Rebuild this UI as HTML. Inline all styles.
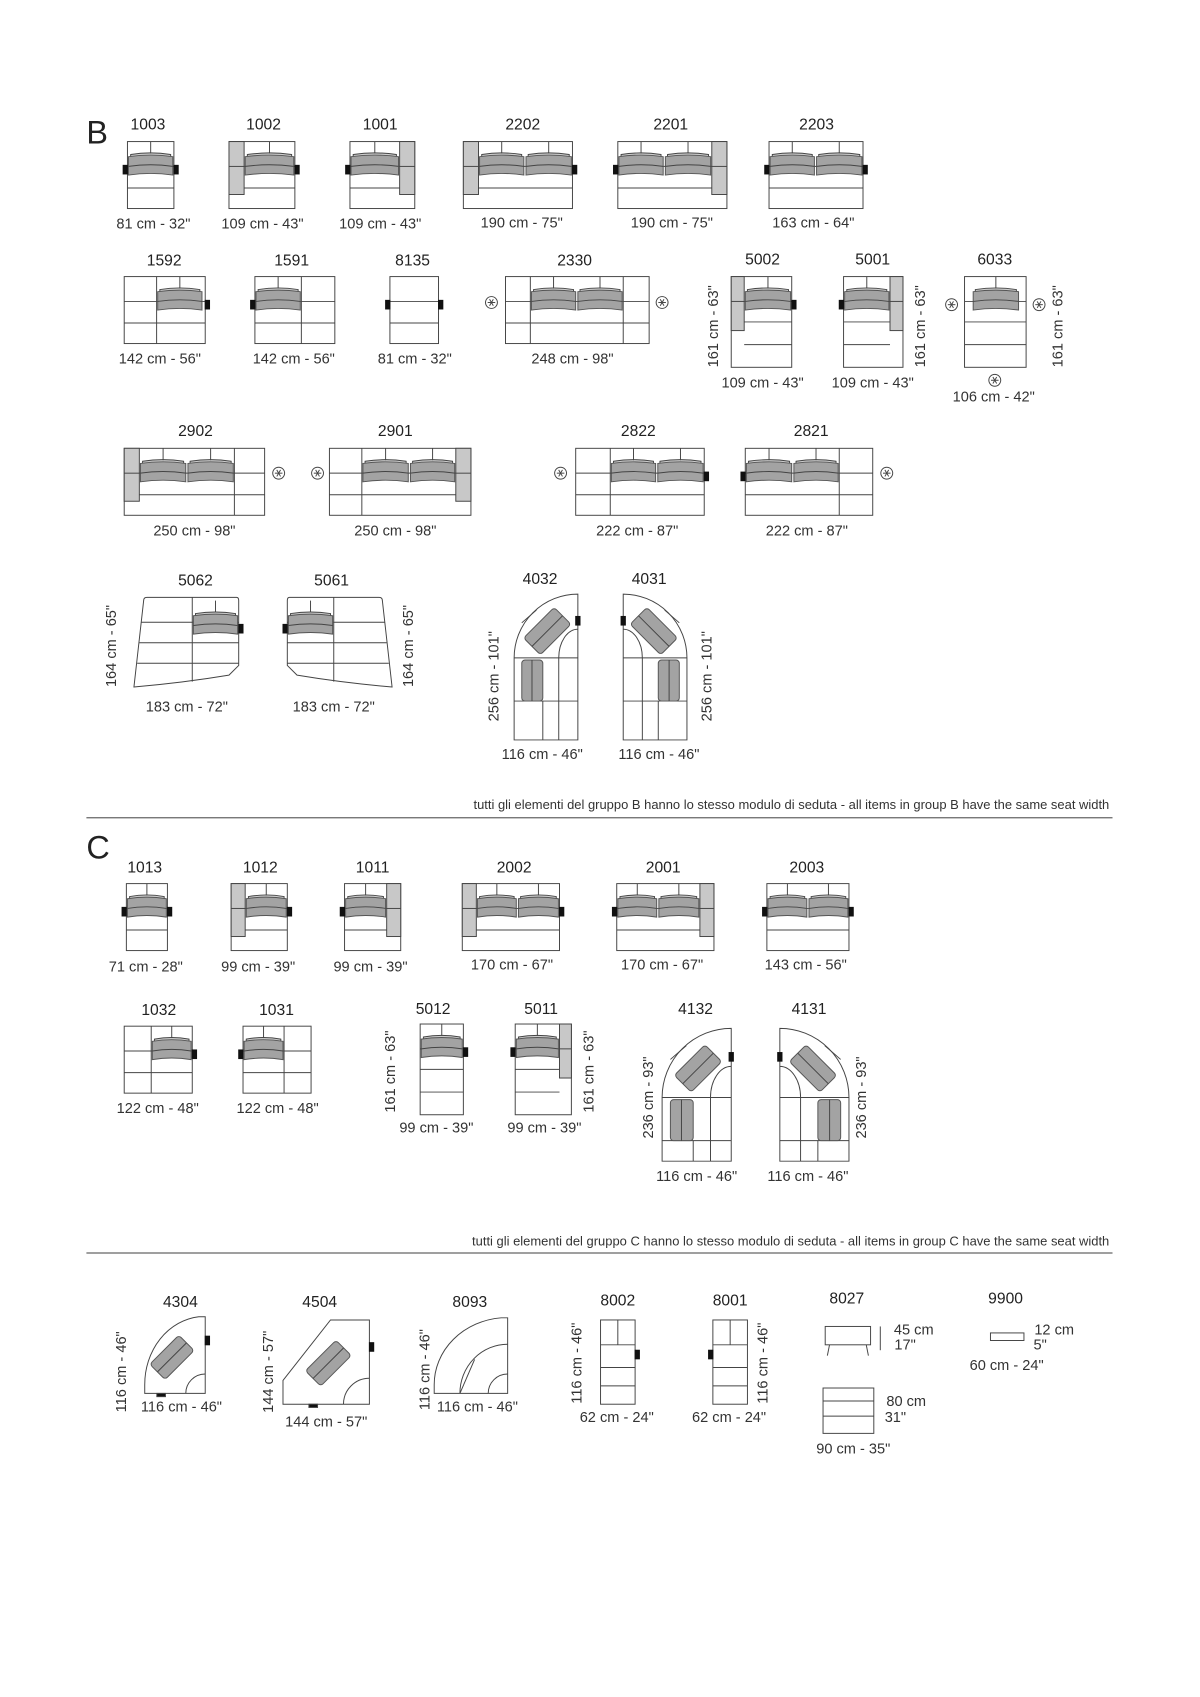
<!DOCTYPE html>
<html><head><meta charset="utf-8"><style>
html,body{margin:0;padding:0;background:#fff}
svg{display:block}
text{font-family:"Liberation Sans",sans-serif;fill:#222}
.l{font-size:14.5px;text-anchor:middle;dominant-baseline:middle}
.d{font-size:13.5px;text-anchor:middle;dominant-baseline:middle;fill:#333}
.c{font-size:12px;text-anchor:end;fill:#333}
</style></head><body>
<svg id="s" width="1200" height="1697" viewBox="0 0 1111 1571" xmlns="http://www.w3.org/2000/svg">
<g id="shapes" fill="none" stroke="#444" stroke-width="0.9"></g>
<text x="80" y="125" style="font-size:30px;dominant-baseline:middle">B</text>
<text x="80" y="787" style="font-size:30px;dominant-baseline:middle">C</text>
<line x1="80" y1="757" x2="1030" y2="757" stroke="#666" stroke-width="1.2"/>
<line x1="80" y1="1160" x2="1030" y2="1160" stroke="#666" stroke-width="1.2"/>
<text class="c" x="1027" y="749">tutti gli elementi  del gruppo B hanno lo stesso modulo di  seduta  -  all items in group B have the same seat width</text>
<text class="c" x="1027" y="1153">tutti gli elementi  del gruppo C hanno lo stesso modulo di  seduta  -  all items in group C have the same seat width</text>

<text class="l" x="137" y="116">1003</text><text class="l" x="244" y="116">1002</text><text class="l" x="352" y="116">1001</text>
<text class="l" x="484" y="116">2202</text><text class="l" x="621" y="116">2201</text><text class="l" x="756" y="116">2203</text>
<text class="d" x="142" y="208">81 cm - 32"</text><text class="d" x="243" y="208">109 cm - 43"</text><text class="d" x="352" y="208">109 cm - 43"</text>
<text class="d" x="483" y="207">190 cm - 75"</text><text class="d" x="622" y="207">190 cm - 75"</text><text class="d" x="753" y="207">163 cm - 64"</text>

<text class="l" x="152" y="242">1592</text><text class="l" x="270" y="242">1591</text><text class="l" x="382" y="242">8135</text>
<text class="l" x="532" y="242">2330</text><text class="l" x="706" y="241">5002</text><text class="l" x="808" y="241">5001</text><text class="l" x="921" y="241">6033</text>
<text class="d" x="148" y="333">142 cm - 56"</text><text class="d" x="272" y="333">142 cm - 56"</text><text class="d" x="384" y="333">81 cm - 32"</text>
<text class="d" x="530" y="333">248 cm - 98"</text><text class="d" x="706" y="355">109 cm - 43"</text><text class="d" x="808" y="355">109 cm - 43"</text><text class="d" x="920" y="368">106 cm - 42"</text>
<text class="d" transform="translate(661,302) rotate(-90)">161 cm - 63"</text>
<text class="d" transform="translate(853,302) rotate(-90)">161 cm - 63"</text>
<text class="d" transform="translate(980,302) rotate(-90)">161 cm - 63"</text>

<text class="l" x="181" y="400">2902</text><text class="l" x="366" y="400">2901</text><text class="l" x="591" y="400">2822</text><text class="l" x="751" y="400">2821</text>
<text class="d" x="180" y="492">250 cm - 98"</text><text class="d" x="366" y="492">250 cm - 98"</text><text class="d" x="590" y="492">222 cm - 87"</text><text class="d" x="747" y="492">222 cm - 87"</text>

<text class="l" x="181" y="538">5062</text><text class="l" x="307" y="538">5061</text><text class="l" x="500" y="537">4032</text><text class="l" x="601" y="537">4031</text>
<text class="d" x="173" y="655">183 cm - 72"</text><text class="d" x="309" y="655">183 cm - 72"</text><text class="d" x="502" y="699">116 cm - 46"</text><text class="d" x="610" y="699">116 cm - 46"</text>
<text class="d" transform="translate(104,598) rotate(-90)">164 cm - 65"</text>
<text class="d" transform="translate(379,598) rotate(-90)">164 cm - 65"</text>
<text class="d" transform="translate(458,626) rotate(-90)">256 cm - 101"</text>
<text class="d" transform="translate(655,626) rotate(-90)">256 cm - 101"</text>

<text class="l" x="134" y="804">1013</text><text class="l" x="241" y="804">1012</text><text class="l" x="345" y="804">1011</text>
<text class="l" x="476" y="804">2002</text><text class="l" x="614" y="804">2001</text><text class="l" x="747" y="804">2003</text>
<text class="d" x="135" y="896">71 cm - 28"</text><text class="d" x="239" y="896">99 cm - 39"</text><text class="d" x="343" y="896">99 cm - 39"</text>
<text class="d" x="474" y="894">170 cm - 67"</text><text class="d" x="613" y="894">170 cm - 67"</text><text class="d" x="746" y="894">143 cm - 56"</text>

<text class="l" x="147" y="936">1032</text><text class="l" x="256" y="936">1031</text><text class="l" x="401" y="935">5012</text><text class="l" x="501" y="935">5011</text>
<text class="l" x="644" y="935">4132</text><text class="l" x="749" y="935">4131</text>
<text class="d" x="146" y="1027">122 cm - 48"</text><text class="d" x="257" y="1027">122 cm - 48"</text><text class="d" x="404" y="1045">99 cm - 39"</text><text class="d" x="504" y="1045">99 cm - 39"</text>
<text class="d" x="645" y="1090">116 cm - 46"</text><text class="d" x="748" y="1090">116 cm - 46"</text>
<text class="d" transform="translate(362,992) rotate(-90)">161 cm - 63"</text>
<text class="d" transform="translate(546,992) rotate(-90)">161 cm - 63"</text>
<text class="d" transform="translate(601,1016) rotate(-90)">236 cm - 93"</text>
<text class="d" transform="translate(798,1016) rotate(-90)">236 cm - 93"</text>

<text class="l" x="167" y="1206">4304</text><text class="l" x="296" y="1206">4504</text><text class="l" x="435" y="1206">8093</text>
<text class="l" x="572" y="1205">8002</text><text class="l" x="676" y="1205">8001</text><text class="l" x="784" y="1203">8027</text><text class="l" x="931" y="1203">9900</text>
<text class="d" x="168" y="1303">116 cm - 46"</text><text class="d" x="302" y="1317">144 cm - 57"</text><text class="d" x="442" y="1303">116 cm - 46"</text>
<text class="d" x="571" y="1313">62 cm - 24"</text><text class="d" x="675" y="1313">62 cm - 24"</text><text class="d" x="790" y="1342">90 cm - 35"</text><text class="d" x="932" y="1265">60 cm - 24"</text>
<text class="d" transform="translate(113,1270) rotate(-90)">116 cm - 46"</text>
<text class="d" transform="translate(249,1270) rotate(-90)">144 cm - 57"</text>
<text class="d" transform="translate(394,1268) rotate(-90)">116 cm - 46"</text>
<text class="d" transform="translate(535,1262) rotate(-90)">116 cm - 46"</text>
<text class="d" transform="translate(707,1262) rotate(-90)">116 cm - 46"</text>
<text class="d" x="846" y="1232">45 cm</text><text class="d" x="838" y="1246">17"</text>
<text class="d" x="839" y="1298">80 cm</text><text class="d" x="829" y="1313">31"</text>
<text class="d" x="976" y="1232">12 cm</text><text class="d" x="963" y="1246">5"</text>
</svg>
<script>
var G=document.getElementById('shapes'),NS='http://www.w3.org/2000/svg';
function el(t,a,p){var e=document.createElementNS(NS,t);for(var k in a)e.setAttribute(k,a[k]);(p||G).appendChild(e);return e;}
function R(x,y,w,h,f,p){return el('rect',{x:x,y:y,width:w,height:h,fill:f||'none'},p);}
function L(a,b,c,d,p){return el('line',{x1:a,y1:b,x2:c,y2:d},p);}
function K(x,y,p){el('rect',{x:x-2,y:y,width:4,height:8,fill:'#111',stroke:'#111'},p);}
function AST(x,y){el('circle',{cx:x,cy:y,r:5.5,fill:'#fff'});for(var i=0;i<3;i++){var a=i*Math.PI/3;L(x-3.5*Math.cos(a),y-3.5*Math.sin(a),x+3.5*Math.cos(a),y+3.5*Math.sin(a));}}
function cush(x,y,w,p){
 el('path',{d:'M'+(x+3)+' '+(y+12)+' Q'+(x+w/2)+' '+(y+9)+' '+(x+w-3)+' '+(y+12)+' L'+(x+w-3)+' '+(y+14)+' L'+(x+3)+' '+(y+14)+'Z',fill:'#ccc'},p);
 el('path',{d:'M'+(x+1)+' '+(y+14)+' Q'+(x+w/2)+' '+(y+11)+' '+(x+w-1)+' '+(y+14)+' L'+(x+w-1)+' '+(y+31)+' Q'+(x+w/2)+' '+(y+28)+' '+(x+1)+' '+(y+31)+'Z',fill:'#a3a3a3',stroke:'#555'},p);
 el('path',{d:'M'+(x+1)+' '+(y+23)+' Q'+(x+w/2)+' '+(y+20)+' '+(x+w-1)+' '+(y+23)},p);
 L(x+w/2,y,x+w/2,y+11,p);
}
function S(x,y,w,h,o){
 R(x,y,w,h,'#fff');
 var aL=o.aL||0,aR=o.aR||0,ah=h>70?50:49;
 L(x+aL,y+(h>70?42:43),x+w-aR,y+(h>70?42:43));
 if(h>70)L(x+aL,y+63,x+w-aR,y+63);
 if(o.mid!==false)L(x+aL,y+23,x+w-aR,y+23);
 (o.v||[]).forEach(function(v){L(v,y,v,y+h);});
 if(aL){R(x,y,aL,ah,'#c8c8c8');L(x,y+23,x+aL,y+23);}
 if(aR){R(x+w-aR,y,aR,ah,'#c8c8c8');L(x+w-aR,y+23,x+w,y+23);}
 (o.s||[]).forEach(function(s){cush(s[0],y,s[1]);});
 (o.k||[]).forEach(function(k){K(k,y+22);});
}
S(118,131,43,62,{s:[[118,43]],k:[116,163]});
S(212,131,61,62,{aL:14,s:[[226,47]],k:[275]});
S(324,131,60,62,{aR:14,s:[[324,46]],k:[322]});
S(429,131,101,62,{aL:14,s:[[443,43],[486,44]],k:[532]});
S(572,131,101,62,{aR:14,s:[[572,43],[615,44]],k:[570]});
S(712,131,87,62,{s:[[712,43],[755,44]],k:[710,801]});
S(115,256,75,62,{v:[145],s:[[145,43]],k:[192]});
S(236,256,74,62,{v:[279],s:[[236,43]],k:[234]});
S(361,256,45,62,{k:[359,408]});
S(468,256,133,62,{v:[491,577],s:[[491,43],[534,43]]});AST(455,280);AST(613,280);
S(677,256,56,84,{aL:12,s:[[689,44]],k:[735]});
S(781,256,55,84,{aR:12,s:[[781,43]],k:[779]});
S(893,256,57,84,{s:[[900,44]]});AST(881,282);AST(962,282);AST(921,352);
S(115,415,130,62,{aL:14,v:[217],s:[[129,44],[173,44]]});AST(258,438);
S(305,415,131,62,{aR:14,v:[335],s:[[335,44],[379,43]]});AST(294,438);
S(533,415,119,62,{v:[565],s:[[565,43],[608,44]],k:[654]});AST(519,438);
S(690,415,118,62,{v:[777],s:[[690,44],[734,43]],k:[688]});AST(821,438);
function trap(p){
 el('path',{d:'M136 553 L219 553 Q221 553 221 556 L221 616 L212 625 Q170 632 124 636 L133 556 Q133 553 136 553Z',fill:'#fff'},p);
 L(178,553,178,631,p);L(131,576,221,576,p);L(129,595,221,595,p);L(127,614,221,614,p);
 cush(178,556,43,p);K(223,578,p);
}
trap();var g=el('g',{transform:'translate(487,0) scale(-1,1)'});trap(g);
function corner(x,y,w,h,p){
 var r=w, cy=y+r;
 el('path',{d:'M'+x+' '+(y+h)+' L'+x+' '+cy+' A'+r+' '+r+' 0 0 1 '+(x+w)+' '+y+' L'+(x+w)+' '+(y+h)+'Z',fill:'#fff'},p);
 L(x,cy,x+w,cy,p);L(x,cy+40,x+w,cy+40,p);
 L(x+w*0.45,cy+40,x+w*0.45,y+h,p);L(x+w*0.7,cy,x+w*0.7,y+h,p);
 el('path',{d:'M'+(x+w*0.7)+' '+cy+' A'+(w*0.3)+' '+(w*0.45)+' 0 0 1 '+(x+w)+' '+(cy-w*0.45)},p);
 el('path',{d:'M'+(x+w*0.12)+' '+(cy-w*0.55)+' L'+(x+w*0.35)+' '+(cy-w*0.75)},p);
 var gg=el('g',{transform:'translate('+(x+w*0.52)+','+(cy-w*0.42)+') rotate(-45)'},p);
 el('rect',{x:-20,y:-11,width:40,height:22,rx:3,fill:'#a3a3a3',stroke:'#555'},gg);L(-20,0,20,0,gg);
 el('rect',{x:x+w*0.12,y:cy+2,width:w*0.33,height:38,rx:3,fill:'#a3a3a3',stroke:'#555'},p);
 L(x+w*0.28,cy+2,x+w*0.28,cy+40,p);
 K(x+w,y+w*0.35,p);
}
corner(476,550,59,135);corner(476,550,59,135,el('g',{transform:'translate(1112,0) scale(-1,1)'}));
S(117,818,38,62,{s:[[117,38]],k:[115,157]});
S(214,818,52,62,{aL:13,s:[[227,39]],k:[268]});
S(319,818,52,62,{aR:13,s:[[319,39]],k:[317]});
S(428,818,90,62,{aL:13,s:[[441,38],[479,39]],k:[520]});
S(571,818,90,62,{aR:13,s:[[571,38],[609,39]],k:[569]});
S(710,818,76,62,{s:[[710,38],[748,38]],k:[708,788]});
S(115,950,63,62,{v:[140],s:[[140,38]],k:[180]});
S(225,950,63,62,{v:[263],s:[[225,38]],k:[223]});
S(389,948,40,84,{s:[[389,40]],k:[431]});
S(477,948,52,84,{aR:11,s:[[477,41]],k:[475]});
corner(613,952,64,123);corner(613,952,64,123,el('g',{transform:'translate(1399,0) scale(-1,1)'}));
function qc(x,y,w,h,cu){
 el('path',{d:'M'+(x+w)+' '+y+' L'+(x+w)+' '+(y+h)+' L'+x+' '+(y+h)+' L'+x+' '+(y+h-8)+' A'+(w)+' '+(h-8)+' 0 0 1 '+(x+w-6)+' '+y+'Z',fill:'#fff'});
 el('path',{d:'M'+(x+w-18)+' '+(y+h)+' A18 18 0 0 1 '+(x+w)+' '+(y+h-18)});
 if(cu){var gg=el('g',{transform:'translate('+(x+w*0.45)+','+(y+h*0.53)+') rotate(-45)'});
  el('rect',{x:-19,y:-10,width:38,height:20,rx:3,fill:'#a3a3a3',stroke:'#555'},gg);L(-19,0,19,0,gg);
  K(x+w+2,y+18);el('rect',{x:x+w*0.2,y:y+h,width:8,height:3,fill:'#111'});}
 else{el('path',{d:'M'+(x+w*0.35)+' '+(y+h)+' A'+(w*0.65)+' '+(h*0.65)+' 0 0 1 '+(x+w)+' '+(y+h*0.35)});
  L(x+w*0.35,y+h,x+w*0.55,y+h*0.55);}
}
qc(134,1219,56,71,true);qc(402,1220,68,70,false);
el('path',{d:'M306 1222 L342 1222 L342 1300 L262 1300 L262 1278 Z',fill:'#fff'});
el('path',{d:'M318 1300 A24 24 0 0 1 342 1276'});
var g4=el('g',{transform:'translate(304,1262) rotate(-45)'});el('rect',{x:-20,y:-10,width:40,height:20,rx:3,fill:'#a3a3a3',stroke:'#555'},g4);L(-20,0,20,0,g4);
K(344,1243);el('rect',{x:286,y:1300,width:8,height:3,fill:'#111'});
function pf(x,k){R(x,1222,32,78,'#fff');L(x,1245,x+32,1245);L(x,1266,x+32,1266);L(x,1283,x+32,1283);L(x+16,1222,x+16,1245);K(k,1250);}
pf(556,590);pf(660,658);
R(764,1228,42,17,'#fff');L(768,1245,766,1255);L(802,1245,804,1255);L(815,1228,815,1250);
R(762,1285,47,42,'#fff');L(762,1297,809,1297);L(762,1311,809,1311);
R(917,1234,31,7,'#fff');
</script>
</body></html>
